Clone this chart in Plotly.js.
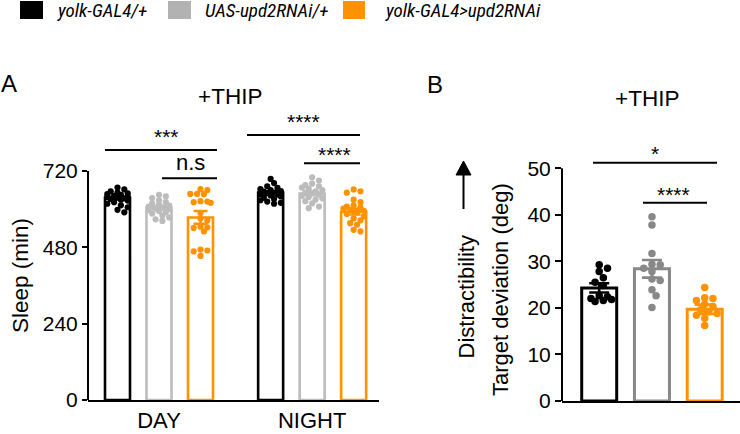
<!DOCTYPE html>
<html><head><meta charset="utf-8">
<script src="https://cdn.plot.ly/plotly-3.0.1.min.js"></script>
<style>html,body{margin:0;padding:0;background:#fff}#chart{width:740px;height:434px}</style>
</head><body><div id="chart"></div>
<script>
// ---------- data ----------
const groupLabels = ['yolk-GAL4/+', 'UAS-upd2RNAi/+', 'yolk-GAL4>upd2RNAi'];
const periodLabels = ['DAY', 'NIGHT'];
const sleepMeans = [636, 605, 574, 652, 649, 592];
const sleepSem = [4, 5, 20, 4, 5, 9];
const sleepDayBlack = [668, 662, 656, 652, 650, 647, 645, 642, 640, 638, 636, 634, 632, 630, 627, 622, 617, 612, 606, 598, 590];
const sleepDayGray = [645, 640, 635, 628, 622, 618, 614, 611, 608, 605, 602, 600, 597, 594, 590, 586, 580, 574, 568, 563];
const sleepDayOrange = [663, 660, 648, 648, 647, 625, 624, 622, 620, 588, 571, 564, 545, 543, 541, 530, 473, 470, 467, 453];
const sleepNightBlack = [695, 682, 672, 667, 663, 660, 657, 655, 652, 650, 648, 646, 643, 640, 636, 632, 628, 624, 620, 617];
const sleepNightGray = [700, 690, 680, 676, 672, 668, 664, 660, 656, 652, 650, 646, 642, 638, 634, 630, 625, 618, 608, 603];
const sleepNightOrange = [662, 656, 652, 630, 622, 612, 608, 605, 602, 598, 595, 590, 585, 578, 571, 565, 556, 551, 535, 530];
const sleepTicks = [0, 240, 480, 720];
const devMeans = [24.3, 28.4, 19.7];
const devSem = [1.0, 1.9, 1.0];
const devBlack = [29.3, 28.5, 27.8, 26.5, 25.5, 24.8, 22.6, 22.4, 22.0, 21.8, 21.6, 21.4];
const devGray = [39.6, 37.8, 31.7, 29.4, 29.3, 28.5, 27.8, 26.2, 25.9, 23.9, 22.6, 20.1];
const devOrange = [24.4, 22.2, 22.0, 21.6, 20.8, 20.3, 19.6, 19.2, 18.8, 18.4, 17.8, 16.2];
const devTicks = [0, 10, 20, 30, 40, 50];
const sigA = ['***', 'n.s', '****', '****'];
const sigB = ['*', '****'];

// ---------- layout geometry ----------
const W = 740, H = 434;
const fx = x => x / W, fy = y => 1 - y / H;
const BLACK = '#000000', GRAYA = '#bcbcbc', GRAYB = '#888888', ORANGE = '#ff9200', GRAYLEG = '#b2b2b2';
const FONT = 'Arial, "Liberation Sans", Helvetica, sans-serif';

// Panel A pixel frame
const A = {xl: 88, xr: 379, yb: 400, slot: 41.5, c0: 117.5, pxPerY: 229 / 720, yTop: 920};
A.xRange = [(A.xl - A.c0) / A.slot, (A.xr - A.c0) / A.slot];
A.ytPx = A.yb - A.yTop * A.pxPerY;
const posA = [0, 1, 2, 3.69, 4.69, 5.69];
const colorsA = [BLACK, GRAYA, ORANGE, BLACK, GRAYA, ORANGE];
const dotsA = [sleepDayBlack, sleepDayGray, sleepDayOrange, sleepNightBlack, sleepNightGray, sleepNightOrange];

// Panel B pixel frame
const B = {xl: 562, xr: 740, yb: 401, slot: 52.75, c0: 599.2, pxPerY: 232.7 / 50, yTop: 56};
B.xRange = [(B.xl - B.c0) / B.slot, (B.xr - B.c0) / B.slot];
B.ytPx = B.yb - B.yTop * B.pxPerY;
const posB = [0, 1, 2];
const colorsB = [BLACK, GRAYB, ORANGE];
const dotsB = [devBlack, devGray, devOrange];

// deterministic beeswarm placement (pixel space -> data x)
function swarm(values, center, pxPerX, pxPerY, diam, maxHalf) {
  const idx = values.map((v, i) => i).sort((a, b) => values[b] - values[a]);
  const placed = [];
  const xs = new Array(values.length);
  const step = diam * 0.55;
  for (const i of idx) {
    const y = values[i] * pxPerY;
    let best = 0, bestOv = Infinity;
    for (let k = 0; k <= 30 && bestOv > 0; k++) {
      const cands = k === 0 ? [0] : [k * step, -k * step];
      for (const dx of cands) {
        if (Math.abs(dx) > maxHalf) continue;
        let ov = 0;
        for (const p of placed) {
          const d = Math.hypot(p.x - dx, p.y - y);
          if (d < diam * 0.85) ov += diam * 0.85 - d;
        }
        if (ov < bestOv) { bestOv = ov; best = dx; }
        if (ov === 0) break;
      }
    }
    placed.push({x: best, y: y});
    xs[i] = center + best / pxPerX;
  }
  return xs;
}

const traces = [];
// bars
traces.push({type: 'bar', x: posA, y: sleepMeans, width: posA.map(() => 25 / A.slot),
  marker: {color: 'rgba(255,255,255,0)', line: {color: colorsA, width: 2.6}},
  xaxis: 'x', yaxis: 'y', hoverinfo: 'skip'});
traces.push({type: 'bar', x: posB, y: devMeans, width: posB.map(() => 35 / B.slot),
  marker: {color: 'rgba(255,255,255,0)', line: {color: colorsB, width: 3}},
  xaxis: 'x2', yaxis: 'y2', hoverinfo: 'skip'});
// dots
dotsA.forEach((vals, g) => {
  traces.push({type: 'scatter', mode: 'markers', xaxis: 'x', yaxis: 'y',
    x: swarm(vals, posA[g], A.slot, A.pxPerY, 6.2, 12), y: vals,
    marker: {size: 6.2, color: colorsA[g], line: {width: 0}}, cliponaxis: false, hoverinfo: 'skip'});
});
dotsB.forEach((vals, g) => {
  traces.push({type: 'scatter', mode: 'markers', xaxis: 'x2', yaxis: 'y2',
    x: swarm(vals, posB[g], B.slot, B.pxPerY, 7.5, 16), y: vals,
    marker: {size: 7.5, color: colorsB[g], line: {width: 0}}, cliponaxis: false, hoverinfo: 'skip'});
});
// error bars (on top)
posA.forEach((p, g) => {
  traces.push({type: 'scatter', mode: 'markers', xaxis: 'x', yaxis: 'y', x: [p], y: [sleepMeans[g]],
    marker: {size: 1, opacity: 0}, hoverinfo: 'skip',
    error_y: {type: 'data', array: [sleepSem[g]], color: colorsA[g], thickness: 2.5, width: 7}});
});
posB.forEach((p, g) => {
  traces.push({type: 'scatter', mode: 'markers', xaxis: 'x2', yaxis: 'y2', x: [p], y: [devMeans[g]],
    marker: {size: 1, opacity: 0}, hoverinfo: 'skip',
    error_y: {type: 'data', array: [devSem[g]], color: colorsB[g], thickness: 2.6, width: 10}});
});

const shapes = [];
const annotations = [];
const line = (x0, y0, x1, y1, w) => shapes.push({type: 'line', xref: 'paper', yref: 'paper',
  x0: fx(x0), y0: fy(y0), x1: fx(x1), y1: fy(y1), line: {color: BLACK, width: w || 2}});
const ann = (text, x, y, size, extra) => annotations.push(Object.assign({text: text, xref: 'paper', yref: 'paper',
  x: fx(x), y: fy(y), showarrow: false, font: {family: FONT, size: size, color: BLACK},
  xanchor: 'center', yanchor: 'middle'}, extra || {}));

// Panel A y-axis line (0..720 only)
shapes.push({type: 'line', xref: 'paper', yref: 'y', x0: fx(A.xl), x1: fx(A.xl), y0: 0, y1: 720,
  line: {color: BLACK, width: 2}});
// Panel B y-axis line (0..50 only)
shapes.push({type: 'line', xref: 'paper', yref: 'y2', x0: fx(B.xl), x1: fx(B.xl), y0: 0, y1: 50,
  line: {color: BLACK, width: 2}});

// significance brackets A
line(105, 150, 217, 150); ann(sigA[0], 166.7, 136.7, 21);
line(162, 178.3, 217, 178.3); ann(sigA[1], 190, 162.5, 22);
line(247, 135, 360, 135); ann(sigA[2], 303, 121.7, 21);
line(304, 163.3, 360, 163.3); ann(sigA[3], 334, 154.3, 21);
// significance brackets B
line(593, 162.7, 717, 162.7); ann(sigB[0], 655, 153, 21);
line(643, 202.7, 707, 202.7); ann(sigB[1], 673.3, 194.3, 21);

// titles / labels
ann('+THIP', 230, 96, 22.5);
ann('+THIP', 647.3, 98.3, 22.5);
ann('A', 8.5, 83.5, 24);
ann('B', 435, 84.5, 24);
ann('Sleep (min)', 20, 276, 22.5, {textangle: -90});
ann('Target deviation (deg)', 500, 290, 22, {textangle: -90});
ann('Distractibility', 466, 297.5, 22, {textangle: -90});
// arrow
line(463.5, 209, 463.5, 172, 2);
shapes.push({type: 'path', xref: 'paper', yref: 'paper',
  path: `M ${fx(456)} ${fy(175)} L ${fx(471)} ${fy(175)} L ${fx(463.5)} ${fy(161)} Z`,
  fillcolor: BLACK, line: {color: BLACK, width: 1}});

// legend
const legX = [[20, 43, 55], [168, 191, 203], [343, 365, 383]];
const legC = [BLACK, GRAYLEG, ORANGE];
legX.forEach((l, i) => {
  shapes.push({type: 'rect', xref: 'paper', yref: 'paper', x0: fx(l[0]), x1: fx(l[1]), y0: fy(19), y1: fy(1),
    fillcolor: legC[i], line: {width: 0}});
  annotations.push({text: '<i>' + groupLabels[i] + '</i>', xref: 'paper', yref: 'paper', x: fx(l[2]), y: fy(10.5),
    xanchor: 'left', yanchor: 'middle', showarrow: false,
    font: {family: '"Liberation Sans Narrow", "Arial Narrow", "Roboto Condensed", Arial, sans-serif', size: 19, color: BLACK}});
});

const layout = {
  width: W, height: H, margin: {l: 0, r: 0, t: 0, b: 0},
  paper_bgcolor: '#fff', plot_bgcolor: 'rgba(0,0,0,0)',
  showlegend: false, hovermode: false, barmode: 'overlay',
  font: {family: FONT, color: BLACK},
  xaxis: {domain: [fx(A.xl), fx(A.xr)], range: A.xRange, showgrid: false, zeroline: false,
    showline: true, linecolor: BLACK, linewidth: 2, ticks: '', tickvals: [1, 4.69], ticktext: periodLabels,
    tickfont: {size: 22, family: FONT, color: BLACK}, ticklabelstandoff: 0, fixedrange: true},
  yaxis: {domain: [fy(A.yb), fy(A.ytPx)], range: [0, A.yTop], showgrid: false, zeroline: false,
    showline: false, ticks: 'outside', ticklen: 5, tickwidth: 2, tickcolor: BLACK, tickvals: sleepTicks,
    tickfont: {size: 21, family: FONT, color: BLACK}, fixedrange: true},
  xaxis2: {domain: [fx(B.xl), 1], range: B.xRange, showgrid: false, zeroline: false, anchor: 'y2',
    showline: true, linecolor: BLACK, linewidth: 2, ticks: '', showticklabels: false, fixedrange: true},
  yaxis2: {domain: [fy(B.yb), fy(B.ytPx)], range: [0, B.yTop], anchor: 'x2', showgrid: false, zeroline: false,
    showline: false, ticks: 'outside', ticklen: 6, tickwidth: 2, tickcolor: BLACK, tickvals: devTicks,
    tickfont: {size: 21, family: FONT, color: BLACK}, fixedrange: true},
  shapes: shapes, annotations: annotations
};

Plotly.newPlot('chart', traces, layout, {staticPlot: true, displayModeBar: false});
</script></body></html>
